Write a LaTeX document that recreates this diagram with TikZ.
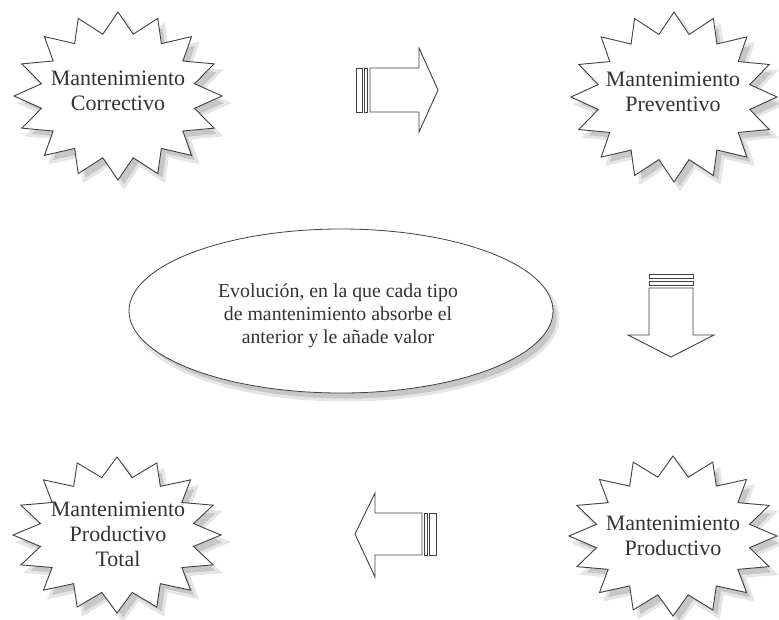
\documentclass[tikz,border=0pt]{standalone}
\usepackage{fontspec}
\setmainfont{Liberation Serif}
\usetikzlibrary{shapes.geometric}
\newcommand\starpath[5]{%
  \path[#5] plot[samples at={0,...,31}, variable=\t]
    ({#1+#3*sr(\t)*cos(90+11.25*\t)},{#2-#4*sr(\t)*sin(90+11.25*\t)}) -- cycle;}
\begin{document}
\begin{tikzpicture}[x=1pt,y=-1pt,
  declare function={sr(\t)=1-0.25*mod(\t,2);},
  outl/.style={draw=black!75, line width=0.9pt, fill=white, line join=miter},
  shad/.style={fill=black!22, draw=black!10, line width=3pt},
  lbl/.style={align=center, text=black!80, font=\fontsize{22}{25}\selectfont, inner sep=0pt},
  evl/.style={align=center, text=black!80, font=\fontsize{19.8}{23}\selectfont, inner sep=0pt},
]
\path[use as bounding box, fill=white] (0,0) rectangle (779,619);

% shadows
\starpath{124}{103}{104}{84}{shad}
\starpath{680}{104}{103}{85}{shad}
\starpath{679}{543}{104}{80}{shad}
\starpath{123}{542}{104}{78}{shad}
\path[shad] (346,318) ellipse [x radius=212, y radius=82];

% stars
\starpath{118}{96}{104}{84}{outl}
\starpath{674}{97}{103}{85}{outl}
\starpath{673}{536}{104}{80}{outl}
\starpath{117}{535}{104}{78}{outl}

% ellipse
\node[outl, ellipse, minimum width=424pt, minimum height=164pt, inner sep=0pt, line width=0.8pt] (ell) at (341,311) {};

% labels
\node[lbl] (mc) at (118,91) {Mantenimiento\\Correctivo};
\node[lbl] (mp) at (673,92) {Mantenimiento\\Preventivo};
\node[lbl] (mpr) at (673,536) {Mantenimiento\\Productivo};
\node[lbl] (mpt) at (118,534) {Mantenimiento\\Productivo\\Total};
\node[evl] (ev) at (338,316) {Evolución, en la que cada tipo\\de mantenimiento absorbe el\\anterior y le añade valor};

% arrow right
\draw[outl] (370,68) -- (419,68) -- (419,48) -- (438,90) -- (419,132) -- (419,112) -- (370,112) -- cycle;
\draw[outl] (356,68) rectangle (362,112);
\draw[outl] (364,68) rectangle (367,112);

% arrow down
\draw[outl] (649,288) -- (693,288) -- (693,335) -- (714,335) -- (671,357) -- (628,335) -- (649,335) -- cycle;
\draw[outl] (649,274) rectangle (693,278);
\draw[outl] (649,281) rectangle (693,285);

% arrow left
\draw[outl] (422,513) -- (375,513) -- (375,493) -- (355,534) -- (375,577) -- (375,555) -- (422,555) -- cycle;
\draw[outl] (424,513) rectangle (427,555);
\draw[outl] (429,513) rectangle (436,555);
\end{tikzpicture}
\end{document}
